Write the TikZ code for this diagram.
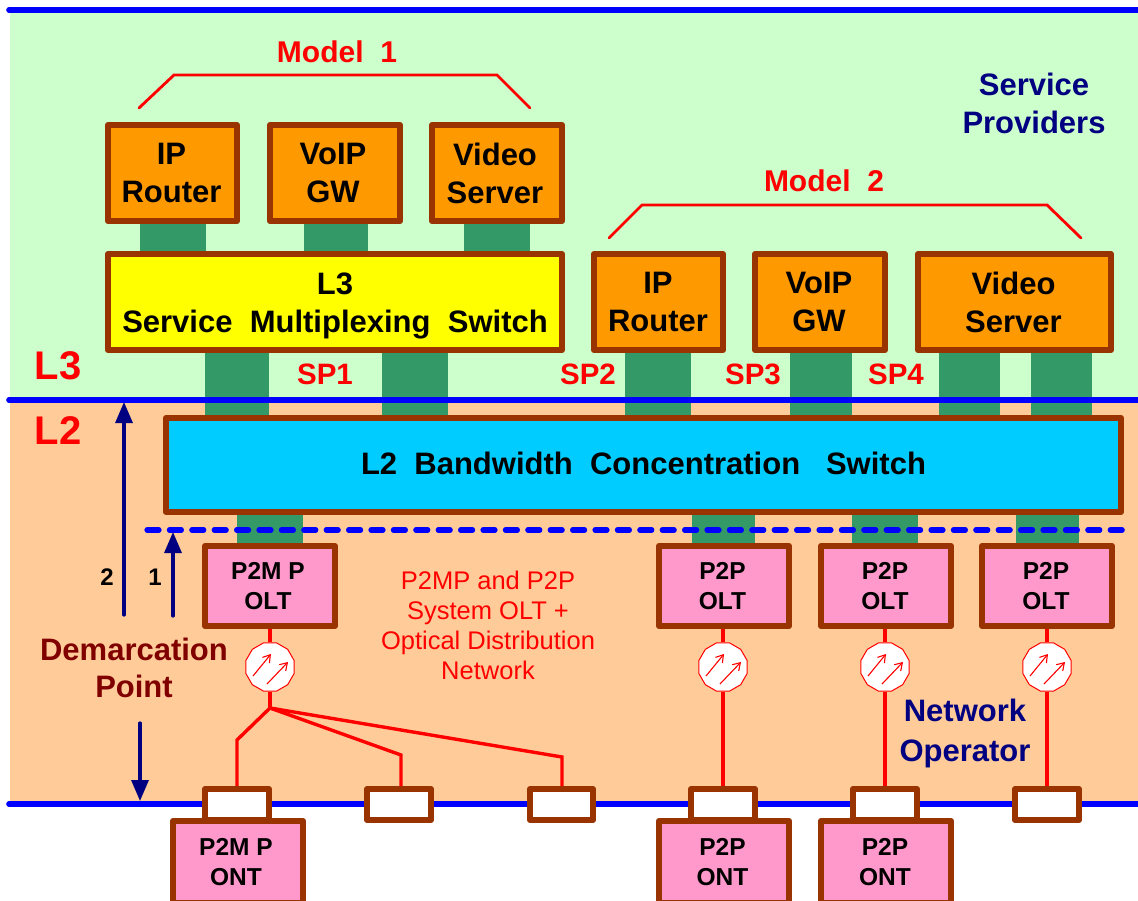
\documentclass[tikz,border=0pt]{standalone}
\usepackage{fontspec}
\setmainfont{Liberation Sans}
\usetikzlibrary{arrows.meta,shapes.geometric}
\definecolor{edgebrown}{HTML}{993300}
\definecolor{orangefill}{HTML}{FF9900}
\definecolor{pinkfill}{HTML}{FF99CC}
\definecolor{yellowfill}{HTML}{FFFF00}
\definecolor{barG}{HTML}{339966}
\definecolor{bgG}{HTML}{CCFFCC}
\definecolor{bgP}{HTML}{FFCC99}
\definecolor{cyanfill}{HTML}{00CCFF}
\definecolor{maroonT}{HTML}{800000}
\definecolor{navyT}{HTML}{000080}
\definecolor{blueL}{HTML}{0000FF}
\pgfdeclarelayer{under}
\pgfsetlayers{under,main}
\tikzset{
  boxbase/.style={draw=edgebrown,line width=6pt,line join=round,align=center,inner sep=0pt,text=black,font=\bfseries},
  bigtext/.style={font=\fontsize{31}{38}\bfseries\selectfont},
  oltbox/.style={boxbase,fill=pinkfill,font=\fontsize{24.5}{30}\bfseries\selectfont},
  orbox/.style={boxbase,fill=orangefill,bigtext},
  smallbox/.style={boxbase,fill=white},
  greenbar/.style={draw=barG},
  layerline/.style={draw=blueL,line width=5.6pt,line cap=round},
  redline/.style={draw=red,line width=3.4pt,line join=miter},
  modelline/.style={draw=red,line width=2.8pt,line cap=round},
  coupler/.style={regular polygon,regular polygon sides=12,draw=red,line width=1pt,fill=white,minimum size=50pt,inner sep=0pt},
  beam/.style={draw=red,line width=1.1pt,-{Straight Barb[length=7pt,width=9pt]}},
  navyarrow/.style={draw=navyT,line width=3.2pt,-{Triangle[length=21pt,width=17pt]},line cap=round},
  lab/.style={inner sep=0pt,font=\fontsize{#1}{#1}\bfseries\selectfont},
  lab/.default=30,
  redtext/.style={lab=#1,text=red},
  navytext/.style={inner sep=0pt,text=navyT,align=center,font=\fontsize{31}{38}\bfseries\selectfont},
}
\newcommand{\bx}[7]{\node[#6,minimum width={#3-#1-6pt},minimum height={#4-#2-6pt}] (#5) at ({(#1+#3)/2},{(#2+#4)/2}) {#7};}
\newcommand{\vbar}[4]{\coordinate (tmpx) at (#1,0); \draw[greenbar,line width=#2pt] (tmpx|-#3) -- (tmpx|-#4);}
\newcommand{\nudge}[1]{\hspace*{#1pt}}
\begin{document}
\begin{tikzpicture}[x=1pt,y=-1pt]
\useasboundingbox (0,0) rectangle (1138,901);
% boxes
\bx{105}{122}{240}{224}{ip1}{orbox}{IP\nudge{2}\\Router\nudge{2}}
\bx{267}{122}{403}{224}{voip1}{orbox}{VoIP\nudge{4}\\GW\nudge{4}}
\bx{429}{122}{565}{224}{vid1}{orbox}{Video\nudge{4}\\Server\nudge{4}}
\bx{105}{251}{565}{353}{l3}{boxbase,fill=yellowfill,bigtext}{\rule{0pt}{29pt}L3\\Service\ \ Multiplexing\ \ Switch}
\bx{591}{251}{726}{353}{ip2}{orbox}{IP\nudge{1}\\Router\nudge{1}}
\bx{752}{251}{888}{353}{voip2}{orbox}{VoIP\nudge{2}\\GW\nudge{2}}
\bx{915}{251}{1114}{353}{vid2}{orbox}{Video\nudge{2}\\Server\nudge{2}}
\bx{163}{415}{1124}{515}{l2}{boxbase,fill=cyanfill,bigtext}{L2\ \ Bandwidth\ \ Concentration\ \ \ Switch\rule[-4pt]{0pt}{4pt}}
\bx{202}{543}{338}{629}{olt1}{oltbox}{P2M\ P\nudge{4}\\OLT\nudge{4}}
\bx{656}{543}{792}{629}{olt2}{oltbox}{P2P\nudge{3}\\OLT\nudge{3}}
\bx{818}{543}{954}{629}{olt3}{oltbox}{P2P\nudge{2}\\OLT\nudge{2}}
\bx{979}{543}{1115}{629}{olt4}{oltbox}{P2P\nudge{2}\\OLT\nudge{2}}
\bx{202}{786}{272}{823}{s1}{smallbox}{}
\bx{364}{786}{434}{823}{s2}{smallbox}{}
\bx{527}{786}{596}{823}{s3}{smallbox}{}
\bx{688}{786}{758}{823}{s4}{smallbox}{}
\bx{850}{786}{920}{823}{s5}{smallbox}{}
\bx{1012}{786}{1082}{823}{s6}{smallbox}{}
\bx{170}{818}{306}{906}{ont1}{oltbox}{P2M\ P\nudge{4}\\ONT\nudge{4}}
\bx{656}{818}{792}{906}{ont2}{oltbox}{P2P\nudge{3}\\ONT\nudge{3}}
\bx{818}{818}{954}{906}{ont3}{oltbox}{P2P\nudge{2}\\ONT\nudge{2}}
% couplers
\node[coupler] (c1) at (270,667) {};
\node[coupler] (c2) at (723,667) {};
\node[coupler] (c3) at (885,667) {};
\node[coupler] (c4) at (1047,667) {};
\foreach \c in {c1,c2,c3,c4}{
  \draw[beam] ([shift={(-17,9)}]\c.center) -- ([shift={(1,-13)}]\c.center);
  \draw[beam] ([shift={(-3,17)}]\c.center) -- ([shift={(18,-5)}]\c.center);
}
% red fibres
\coordinate (j) at (270,708);
\coordinate (k1) at (237,740);
\coordinate (k2) at (401,755);
\coordinate (k3) at (562,757);
\draw[redline] (c1.north|-olt1.south) -- (c1.north);
\draw[redline] (c1.south) -- (j);
\draw[redline] (j) -- (k1) -- (k1|-s1.north);
\draw[redline] (j) -- (k2) -- (k2|-s2.north);
\draw[redline] (j) -- (k3) -- (k3|-s3.north);
\draw[redline] (c2.north|-olt2.south) -- (c2.north);
\draw[redline] (c2.south) -- (c2.south|-s4.north);
\draw[redline] (c3.north|-olt3.south) -- (c3.north);
\draw[redline] (c3.south) -- (c3.south|-s5.north);
\draw[redline] (c4.north|-olt4.south) -- (c4.north);
\draw[redline] (c4.south) -- (c4.south|-s6.north);
% under layer
\begin{pgfonlayer}{under}
\fill[white] (0,0) rectangle (1138,901);
\fill[bgG] (9.5,10) rectangle (1138,400);
\fill[bgP] (9.5,400) rectangle (1138,804);
\vbar{173}{66}{ip1.south}{l3.north}
\vbar{336}{64}{voip1.south}{l3.north}
\vbar{497}{66}{vid1.south}{l3.north}
\vbar{237}{64}{l3.south}{l2.north}
\vbar{415}{66}{l3.south}{l2.north}
\vbar{658}{66}{ip2.south}{l2.north}
\vbar{821}{62}{voip2.south}{l2.north}
\vbar{969.5}{61}{vid2.south}{l2.north}
\vbar{1061.5}{61}{vid2.south}{l2.north}
\vbar{270}{66}{l2.south}{olt1.north}
\vbar{723.5}{63}{l2.south}{olt2.north}
\vbar{885}{66}{l2.south}{olt3.north}
\vbar{1047.5}{63}{l2.south}{olt4.north}
\coordinate (ta) at (9,10); \coordinate (tb) at (1140,10);
\coordinate (ma) at (9,400); \coordinate (mb) at (1140,400);
\coordinate (ba) at (9,804); \coordinate (bb) at (1140,804);
\draw[layerline] (ta) -- (tb);
\draw[layerline] (ma) -- (mb);
\draw[layerline] (ba) -- (bb);
\coordinate (da) at (147,530); \coordinate (db) at (1126,530);
\draw[layerline,line width=5.2pt,dash pattern=on 12pt off 10.4pt] (da) -- (db);
\end{pgfonlayer}
% model brackets
\coordinate (m1a) at (139,108); \coordinate (m1b) at (174,75); \coordinate (m1c) at (497,75); \coordinate (m1d) at (530,108);
\draw[modelline] (m1a) -- (m1b) -- (m1c) -- (m1d);
\coordinate (m2a) at (609,238); \coordinate (m2b) at (642,205); \coordinate (m2c) at (1047,205); \coordinate (m2d) at (1081,238);
\draw[modelline] (m2a) -- (m2b) -- (m2c) -- (m2d);
% navy arrows
\coordinate (a1s) at (173,616); \coordinate (a1e) at (173,532);
\coordinate (a2s) at (124,615); \coordinate (a2e) at (124,402);
\coordinate (a3s) at (140,723); \coordinate (a3e) at (140,801);
\draw[navyarrow] (a1s) -- (a1e);
\draw[navyarrow] (a2s) -- (a2e);
\draw[navyarrow] (a3s) -- (a3e);
% labels
\node[redtext=30] (tm1) at (337,52) {Model\ \ 1};
\node[redtext=30] (tm2) at (824,181) {Model\ \ 2};
\node[navytext] (tsp) at (1034,103) {Service\\Providers};
\node[redtext=40] (tl3) at (58,366) {L3};
\node[redtext=40] (tl2) at (58,431) {L2};
\node[redtext=29.5] (sp1) at (325,374) {SP1};
\node[redtext=29.5] (sp2) at (588,374) {SP2};
\node[redtext=29.5] (sp3) at (753,374) {SP3};
\node[redtext=29.5] (sp4) at (896,374) {SP4};
\node[lab=24] (n1) at (155,577) {1};
\node[lab=24] (n2) at (107,577) {2};
\node[inner sep=0pt,text=maroonT,align=center,font=\fontsize{31}{37}\bfseries\selectfont] (dp) at (134,668) {Demarcation\\Point};
\node[navytext,font=\fontsize{31}{40}\bfseries\selectfont] (nop) at (965,733) {Network\\Operator};
\node[inner sep=0pt,text=red,align=center,font=\fontsize{25.5}{30}\selectfont] (desc) at (488,625.5) {P2MP and P2P\\System OLT +\\Optical Distribution\\Network};
\end{tikzpicture}
\end{document}
